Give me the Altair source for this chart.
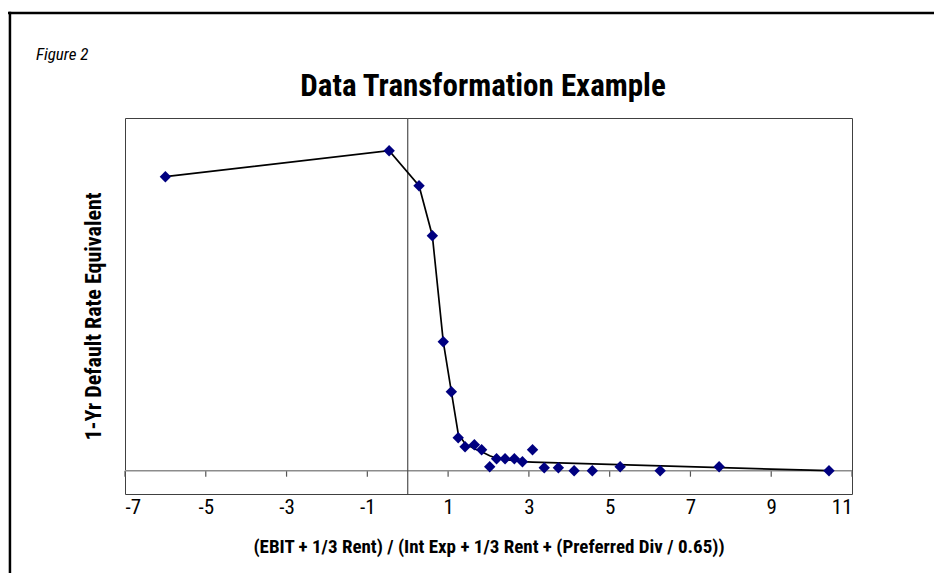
import altair as alt
import pandas as pd

# Scatter points (x ratio, default-rate equivalent in arbitrary units)
pt_x = [-6.0, -0.46, 0.28, 0.61, 0.88, 1.08, 1.25, 1.42, 1.65, 1.83, 2.03, 2.20,
        2.41, 2.64, 2.84, 3.09, 3.38, 3.73, 4.12, 4.57, 5.26, 6.25, 7.71, 10.43]
pt_y = [2.94, 3.20, 2.85, 2.35, 1.29, 0.79, 0.33, 0.24, 0.26, 0.21, 0.04, 0.12,
        0.12, 0.12, 0.09, 0.21, 0.03, 0.03, 0.0, 0.0, 0.04, 0.0, 0.04, 0.0]

# Transformation curve
ln_x = [-6.0, -0.46, 0.28, 0.61, 0.88, 1.08, 1.25, 1.42, 1.65, 1.83, 2.03, 2.20,
        2.41, 2.64, 2.84, 3.09, 10.43]
ln_y = [2.94, 3.20, 2.85, 2.35, 1.29, 0.79, 0.37, 0.27, 0.22, 0.19, 0.15, 0.125,
        0.11, 0.10, 0.09, 0.085, 0.0]

tick_vals = [-7, -5, -3, -1, 1, 3, 5, 7, 9, 11]

TITLE = "Data Transformation Example"
FIG = "Figure 2"
XTITLE = "(EBIT + 1/3 Rent) / (Int Exp + 1/3 Rent + (Preferred Div / 0.65))"
YTITLE = "1-Yr Default Rate Equivalent"

FONT = "Roboto Condensed, sans-serif"

pts = pd.DataFrame({"x": pt_x, "y": pt_y})
line_df = pd.DataFrame({"x": ln_x, "y": ln_y, "i": list(range(len(ln_x)))})
ticks = pd.DataFrame({"t": tick_vals})
one = pd.DataFrame({"a": [0]})

xscale = alt.Scale(domain=[-7, 11], nice=False, zero=False)
yscale = alt.Scale(domain=[-0.233, 3.527], nice=False, zero=False)

xaxis = alt.Axis(values=tick_vals, labelExpr="'' + datum.value", grid=False,
                 ticks=False, domain=False, labelPadding=2, labelFontSize=21,
                 labelFont=FONT, labelColor="#000", title=XTITLE,
                 titleFont=FONT, titleFontSize=19, titleFontWeight="bold",
                 titleColor="#000", titlePadding=20)
yaxis = alt.Axis(labels=False, ticks=False, domain=False, grid=False,
                 title=YTITLE, titleFont=FONT, titleFontSize=22,
                 titleFontWeight="bold", titleColor="#000", titlePadding=20,
                 titleY=198)

hline = alt.Chart(one).mark_rule(color="#8c8c8c", strokeWidth=1.5).encode(
    y=alt.datum(0, scale=yscale))
vline = alt.Chart(one).mark_rule(color="#505050", strokeWidth=1.2).encode(
    x=alt.datum(0, scale=xscale))
tickmarks = alt.Chart(ticks).mark_rule(color="#555", strokeWidth=1.2).encode(
    x=alt.X("t:Q", scale=xscale, axis=xaxis),
    y=alt.datum(0, scale=yscale, axis=yaxis),
    y2=alt.datum(-0.06))
curve = alt.Chart(line_df).mark_line(color="#000", strokeWidth=1.7).encode(
    x=alt.X("x:Q", scale=xscale),
    y=alt.Y("y:Q", scale=yscale),
    order="i:Q")
points = alt.Chart(pts).mark_point(shape="diamond", filled=True, color="#000080",
                                   size=130, opacity=1).encode(
    x=alt.X("x:Q", scale=xscale),
    y=alt.Y("y:Q", scale=yscale))

fig_txt = alt.Chart(one).mark_text(align="left", baseline="middle", fontSize=17,
                                   fontStyle="italic", font=FONT, color="#000").encode(
    x=alt.value(-89), y=alt.value(-63), text=alt.value(FIG))
title_txt = alt.Chart(one).mark_text(align="center", baseline="middle", fontSize=31,
                                     fontWeight="bold", font=FONT, color="#000").encode(
    x=alt.value(358), y=alt.value(-31), text=alt.value(TITLE))
top_border = alt.Chart(one).mark_rect(color="#000", strokeWidth=0).encode(
    x=alt.value(-117), x2=alt.value(809), y=alt.value(-106.3), y2=alt.value(-103.8))
left_border = alt.Chart(one).mark_rect(color="#000", strokeWidth=0).encode(
    x=alt.value(-116.3), x2=alt.value(-113.8), y=alt.value(-106.3), y2=alt.value(470))

chart = alt.layer(tickmarks, hline, vline, curve, points, fig_txt, title_txt,
                  top_border, left_border).properties(
    width=727, height=376,
    autosize=alt.AutoSizeParams(type="none"),
    padding={"left": 117, "top": 110, "right": 82, "bottom": 79},
    background="white",
).configure_view(stroke="#404040", strokeWidth=1)

chart.save("out.html", embed_options={"renderer": "svg", "actions": False})
